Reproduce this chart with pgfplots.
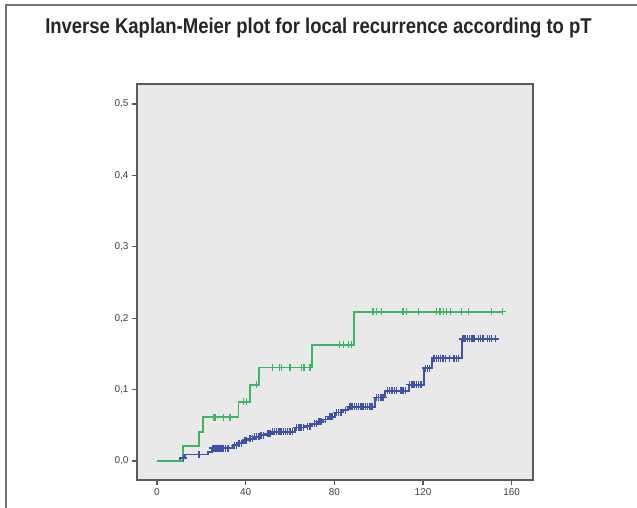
\documentclass[border=0pt]{standalone}
\usepackage{fontspec}
\setmainfont{Liberation Sans}
\newfontfamily\titlefont[FakeStretch=0.863]{Liberation Sans}
\usepackage{pgfplots}
\pgfplotsset{compat=1.18}
\definecolor{kmgreen}{RGB}{60,182,100}
\definecolor{kmblue}{RGB}{62,82,172}
\definecolor{plotbg}{RGB}{233,233,233}
\definecolor{framegray}{RGB}{90,90,90}
\begin{document}
\begin{tikzpicture}[x=1bp,y=1bp]
\useasboundingbox (0,0) rectangle (637,508);
\fill[white] (0,0) rectangle (637,508);
\draw[black!55, line width=1.5bp] (6,0) -- (6,503) -- (637,503);
\node[font=\titlefont\bfseries\fontsize{21.5}{24}\selectfont, text=black!85] at (318.5,480) {Inverse Kaplan-Meier plot for local recurrence according to pT};
\begin{axis}[
  at={(137bp,28bp)}, anchor=south west,
  scale only axis, width=396bp, height=396bp,
  xmin=-9, xmax=169.6, ymin=-0.0266, ymax=0.528,
  axis background/.style={fill=plotbg},
  axis line style={draw=framegray, line width=1.3bp},
  tick style={draw=framegray, line width=1.2bp},
  tick align=outside, major tick length=5bp,
  xtick pos=bottom, ytick pos=left,
  xtick={0,40,80,120,160}, xticklabels={0,40,80,120,160},
  ytick={0,0.1,0.2,0.3,0.4,0.5},
  yticklabels={{0,0},{0,1},{0,2},{0,3},{0,4},{0,5}},
  tick label style={font=\fontsize{10}{12}\selectfont, text=black!75},
  clip=false,
]
% blue group: step function
\addplot[const plot, kmblue, line width=1.8bp] coordinates {
(0,0) (10.5,0.004) (12.5,0.009) (23,0.013) (24.7,0.018) (34.4,0.022) (36.5,0.025)
(38.9,0.029) (41,0.031) (43.4,0.034) (46.5,0.036) (49,0.038) (51.7,0.041) (62.2,0.047)
(67,0.049) (70,0.052) (72.6,0.055) (75,0.058) (77,0.062) (80.3,0.068) (84,0.071)
(86,0.076) (98.3,0.089) (102.8,0.0985) (113.5,0.107) (120.5,0.130) (124,0.144)
(137.7,0.171) (152.7,0.171)
};
% blue censored
\addplot[only marks, mark=+, mark size=3.5bp, kmblue, mark options={line width=1.4bp}] coordinates {
(12,0.004) (19,0.009)
(25,0.018) (25.5,0.018) (26,0.018) (26.5,0.018) (27,0.018) (27.5,0.018) (28,0.018) (28.5,0.018) (29,0.018) (29.5,0.018) (30,0.018) (31,0.018) (32,0.018)
(35,0.022) (36,0.022) (37,0.025) (38,0.025)
(39.5,0.029) (40,0.029) (40.5,0.029) (42,0.031) (43,0.031)
(44,0.034) (45,0.034) (46,0.034) (47,0.036) (48,0.036) (50,0.038) (51,0.038)
(52,0.041) (53,0.041) (54,0.041) (55,0.041) (56,0.041) (57,0.041) (58,0.041) (59,0.041) (60,0.041) (61,0.041)
(63,0.047) (64,0.047) (65,0.047) (66,0.047) (68,0.049) (69,0.049)
(71,0.052) (72,0.052) (73,0.055) (74,0.055) (76,0.058) (78,0.062) (79,0.062)
(81,0.068) (82,0.068) (83,0.068) (85,0.071)
(87,0.076) (88,0.076) (89,0.076) (90,0.076) (91,0.076) (92,0.076) (93,0.076) (94,0.076) (95,0.076) (96,0.076) (97,0.076)
(99,0.089) (100,0.089) (101,0.089) (102,0.089)
(104,0.0985) (105,0.0985) (106,0.0985) (107,0.0985) (108,0.0985) (110,0.0985) (111,0.0985) (112,0.0985)
(114,0.107) (115,0.107) (116,0.107) (117,0.107) (118,0.107) (119,0.107)
(121,0.130) (122,0.130) (123,0.130)
(125,0.144) (126,0.144) (127,0.144) (128,0.144) (129,0.144) (130,0.144) (132,0.144) (134,0.144) (135,0.144) (136,0.144)
(138,0.171) (139,0.171) (140,0.171) (141,0.171) (142,0.171) (143,0.171) (145,0.171) (146,0.171) (147,0.171) (149,0.171) (150,0.171) (151,0.171) (152.7,0.171)
};
% green group: step function
\addplot[const plot, kmgreen, line width=1.8bp] coordinates {
(0,0) (11.9,0.0215) (18.9,0.041) (20.9,0.0616) (36.8,0.083) (42,0.107) (46,0.131)
(70,0.163) (89,0.209) (155.9,0.209)
};
% green censored
\addplot[only marks, mark=+, mark size=3.5bp, kmgreen, mark options={line width=1.4bp}] coordinates {
(25.4,0.0616) (26.2,0.0616) (29.9,0.0616) (32.9,0.0616)
(39,0.083) (40.5,0.083) (45,0.107)
(52,0.131) (55.2,0.131) (56.2,0.131) (60,0.131) (65.3,0.131) (66.3,0.131) (69,0.131)
(82.2,0.163) (84,0.163) (86.3,0.163) (87.8,0.163)
(97.5,0.209) (99,0.209) (101.3,0.209) (111,0.209) (112.6,0.209) (117.9,0.209)
(126.1,0.209) (127.6,0.209) (129.1,0.209) (130.6,0.209) (132.4,0.209)
(137.4,0.209) (140.4,0.209) (150.9,0.209) (155.9,0.209)
};
\end{axis}
\end{tikzpicture}
\end{document}
